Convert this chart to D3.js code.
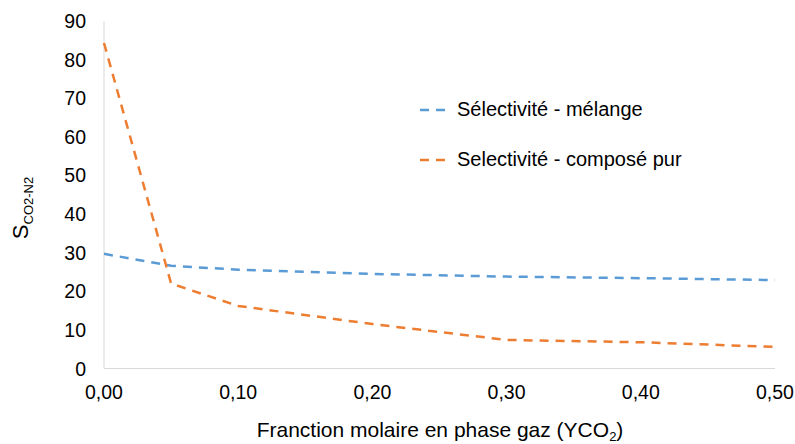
<!DOCTYPE html>
<html>
<head>
<meta charset="utf-8">
<script src="https://cdn.jsdelivr.net/npm/d3@7"></script>
<style>
  body { margin: 0; background: #fff; }
  text { font-family: "Liberation Sans", Arial, sans-serif; fill: #000; }
</style>
</head>
<body>
<div id="chart"></div>
<script>
const width = 795;
const height = 444;

// data
const fractions = [0, 0.05, 0.1, 0.2, 0.3, 0.4, 0.5];
const melange = [29.7, 26.6, 25.6, 24.5, 23.8, 23.4, 22.9];
const pur = [84.3, 22.0, 16.2, 11.5, 7.4, 6.8, 5.6];
const seriesNames = ["Sélectivité - mélange", "Selectivité - composé pur"];
const seriesColors = ["#5B9BD5", "#ED7D31"];
const yTicks = [0, 10, 20, 30, 40, 50, 60, 70, 80, 90];
const xTicks = [0, 0.1, 0.2, 0.3, 0.4, 0.5];

const svg = d3.select("#chart")
    .append("svg")
    .attr("width", width)
    .attr("height", height);

const x = d3.scaleLinear().domain([0, 0.5]).range([104, 775]);
const y = d3.scaleLinear().domain([0, 90]).range([368.5, 21]);

// axis lines
svg.append("line")
    .attr("x1", x(0)).attr("x2", x(0))
    .attr("y1", y(90)).attr("y2", y(0))
    .attr("stroke", "#d9d9d9").attr("stroke-width", 1);
svg.append("line")
    .attr("x1", x(0)).attr("x2", x(0.5))
    .attr("y1", y(0)).attr("y2", y(0))
    .attr("stroke", "#d9d9d9").attr("stroke-width", 1);

// tick labels
svg.selectAll(".ytick")
    .data(yTicks)
    .enter().append("text")
    .attr("x", 86)
    .attr("y", d => y(d) + 7)
    .attr("text-anchor", "end")
    .style("font-size", "19.5px")
    .text(d => d);

const fmt = d => d3.format(".2f")(d).replace(".", ",");
svg.selectAll(".xtick")
    .data(xTicks)
    .enter().append("text")
    .attr("x", d => x(d))
    .attr("y", 399)
    .attr("text-anchor", "middle")
    .style("font-size", "19.5px")
    .text(fmt);

// lines
const line = d3.line()
    .x((d, i) => x(fractions[i]))
    .y(d => y(d));

[melange, pur].forEach((vals, k) => {
    svg.append("path")
        .datum(vals)
        .attr("fill", "none")
        .attr("stroke", seriesColors[k])
        .attr("stroke-width", 2.5)
        .attr("stroke-dasharray", "9,7")
        .attr("d", line);
});

// legend
const legendY = [110, 160];
seriesNames.forEach((name, k) => {
    svg.append("line")
        .attr("x1", 420).attr("x2", 447)
        .attr("y1", legendY[k]).attr("y2", legendY[k])
        .attr("stroke", seriesColors[k])
        .attr("stroke-width", 2.5)
        .attr("stroke-dasharray", "9,7");
    svg.append("text")
        .attr("x", 457)
        .attr("y", legendY[k] + 6)
        .style("font-size", "20px")
        .text(name);
});

// y title
const yt = svg.append("text")
    .attr("transform", "translate(28,208) rotate(-90)")
    .attr("text-anchor", "middle")
    .style("font-size", "22px");
yt.append("tspan").text("S");
yt.append("tspan").attr("dy", 5).style("font-size", "13px").text("CO2-N2");

// x title
const xt = svg.append("text")
    .attr("x", 440)
    .attr("y", 437)
    .attr("text-anchor", "middle")
    .style("font-size", "21px");
xt.append("tspan").text("Franction molaire en phase gaz (YCO");
xt.append("tspan").attr("dy", 4).style("font-size", "13px").text("2");
xt.append("tspan").attr("dy", -4).text(")");
</script>
</body>
</html>
